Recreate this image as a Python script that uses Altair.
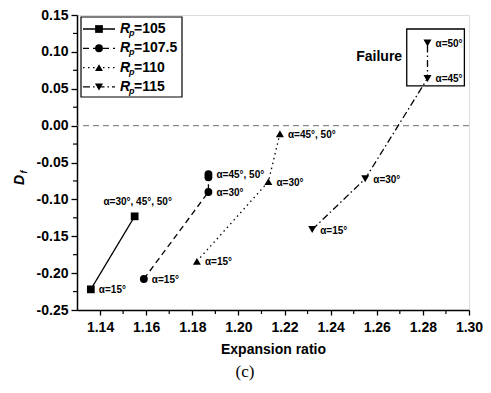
import altair as alt
import pandas as pd

# ---------------- data ----------------
series_names = ["Rp=105", "Rp=107.5", "Rp=110", "Rp=115"]
legend_values = ["=105", "=107.5", "=110", "=115"]

r105_alpha = [15, 30]
r105_ratio = [1.136, 1.155]
r105_df = [-0.222, -0.123]
r105_label = ["α=15°", "α=30°, 45°, 50°"]

r1075_alpha = [15, 30, 45, 50]
r1075_ratio = [1.159, 1.187, 1.187, 1.187]
r1075_df = [-0.208, -0.090, -0.070, -0.066]
r1075_label = ["α=15°", "α=30°", "", "α=45°, 50°"]

r110_alpha = [15, 30, 45]
r110_ratio = [1.182, 1.213, 1.218]
r110_df = [-0.184, -0.076, -0.011]
r110_label = ["α=15°", "α=30°", "α=45°, 50°"]

r115_alpha = [15, 30, 45, 50]
r115_ratio = [1.232, 1.255, 1.282, 1.282]
r115_df = [-0.141, -0.072, 0.064, 0.112]
r115_label = ["α=15°", "α=30°", "α=45°", "α=50°"]

failure_ratio = [1.273, 1.298]
failure_df = [0.054, 0.131]
failure_text_pos = [1.271, 0.093]

x_ticks = [1.14, 1.16, 1.18, 1.20, 1.22, 1.24, 1.26, 1.28, 1.30]
y_ticks = [-0.25, -0.20, -0.15, -0.10, -0.05, 0.00, 0.05, 0.10, 0.15]
x_minor = [1.15, 1.17, 1.19, 1.21, 1.23, 1.25, 1.27, 1.29]
y_minor = [-0.225, -0.175, -0.125, -0.075, -0.025, 0.025, 0.075, 0.125]

# ---------------- tables ----------------
rows = []
for name, al, xr, yd, lb in [
    (series_names[0], r105_alpha, r105_ratio, r105_df, r105_label),
    (series_names[1], r1075_alpha, r1075_ratio, r1075_df, r1075_label),
    (series_names[2], r110_alpha, r110_ratio, r110_df, r110_label),
    (series_names[3], r115_alpha, r115_ratio, r115_df, r115_label),
]:
    for a, x, y, t in zip(al, xr, yd, lb):
        rows.append({"series": name, "alpha": a, "ratio": x, "Df": y, "label": t})
df = pd.DataFrame(rows)

FONT = "Liberation Sans"
W, H = 392, 295

xs = alt.Scale(domain=[1.13, 1.30], nice=False, zero=False)
ys = alt.Scale(domain=[-0.25, 0.15], nice=False, zero=False)

dash_scale = alt.Scale(domain=series_names,
                       range=[[1, 0], [6, 4], [1.5, 3.5], [7, 3, 1.5, 3]])
shape_scale = alt.Scale(domain=series_names,
                        range=["square", "circle", "triangle-up", "triangle-down"])
size_scale = alt.Scale(domain=series_names, range=[60, 65, 110, 110])

x_axis = alt.Axis(values=x_ticks, format=".2f", title="Expansion ratio",
                  labelFont=FONT, labelFontWeight="bold", labelFontSize=14,
                  labelColor="black", labelPadding=5, labelFlush=False,
                  titleFont=FONT, titleFontWeight="bold", titleFontSize=14,
                  titleColor="black", titlePadding=8,
                  tickSize=5, tickWidth=1.3, tickColor="black",
                  domainColor="black", domainWidth=1.5, grid=False)
y_axis = alt.Axis(values=y_ticks, title=None,
                  labelExpr="replace(format(datum.value, '.2f'), '\u2212', '-')",
                  labelFont=FONT, labelFontWeight="bold", labelFontSize=14,
                  labelColor="black", labelPadding=3, labelFlush=False,
                  tickSize=6, tickWidth=1.3, tickColor="black",
                  domainColor="black", domainWidth=1.5, grid=False)

base = alt.Chart(df)
X = alt.X("ratio:Q", scale=xs, axis=x_axis)
Y = alt.Y("Df:Q", scale=ys, axis=y_axis)

zero_line = alt.Chart(pd.DataFrame({"v": [0.0]})).mark_rule(
    color="#8a8a8a", strokeDash=[6, 4], strokeWidth=1.3
).encode(y=alt.Y("v:Q", scale=ys, axis=y_axis))

lines = base.mark_line(color="black", strokeWidth=1.3).encode(
    x=X, y=Y,
    strokeDash=alt.StrokeDash("series:N", scale=dash_scale, legend=None),
    order=alt.Order("alpha:Q"),
)
points = base.mark_point(filled=True, color="black", opacity=1).encode(
    x=X, y=Y,
    shape=alt.Shape("series:N", scale=shape_scale, legend=None),
    size=alt.Size("series:N", scale=size_scale, legend=None),
)
labels = base.transform_filter(
    "datum.label != '' && !(datum.series == 'Rp=105' && datum.alpha == 30)"
).mark_text(align="left", baseline="middle", dx=8, dy=1, font=FONT,
            fontWeight="bold", fontSize=10, color="black").encode(
    x=X, y=Y, text="label:N")
top_label = base.transform_filter(
    "datum.series == 'Rp=105' && datum.alpha == 30"
).mark_text(align="center", baseline="middle", dx=3, dy=-14, font=FONT,
            fontWeight="bold", fontSize=10, color="black").encode(
    x=X, y=Y, text="label:N")

fail_box = alt.Chart(pd.DataFrame({
    "x1": [failure_ratio[0]], "x2": [failure_ratio[1]],
    "y1": [failure_df[0]], "y2": [failure_df[1]]})).mark_rect(
    fill="white", fillOpacity=0, stroke="black", strokeWidth=1.3
).encode(x=alt.X("x1:Q", scale=xs, axis=x_axis), x2="x2:Q",
         y=alt.Y("y1:Q", scale=ys, axis=y_axis), y2="y2:Q")
fail_text = alt.Chart(pd.DataFrame({
    "x": [failure_text_pos[0]], "y": [failure_text_pos[1]], "t": ["Failure"]})
).mark_text(align="right", baseline="middle", font=FONT, fontWeight="bold",
            fontSize=14, color="black").encode(
    x=alt.X("x:Q", scale=xs, axis=x_axis), y=alt.Y("y:Q", scale=ys, axis=y_axis),
    text="t:N")

minor_y = alt.Chart(pd.DataFrame({"v": y_minor})).mark_rule(
    color="black", strokeWidth=1.2).encode(
    y=alt.Y("v:Q", scale=ys, axis=y_axis), x=alt.value(0), x2=alt.value(-4))
minor_x = alt.Chart(pd.DataFrame({"v": x_minor})).mark_rule(
    color="black", strokeWidth=1.2).encode(
    x=alt.X("v:Q", scale=xs, axis=x_axis), y=alt.value(H), y2=alt.value(H + 4))

# ---------------- manual legend ----------------
leg = alt.Chart(pd.DataFrame({"series": series_names, "val": legend_values})
                ).transform_window(row="row_number()"
                ).transform_calculate(ly="14 + 19.3 * (datum.row - 1)")
LY = alt.Y("ly:Q", scale=None, axis=None)
leg_box = alt.Chart(pd.DataFrame({"a": [0]})).mark_rect(
    fill="white", stroke="black", strokeWidth=1.2).encode(
    x=alt.value(4), x2=alt.value(105), y=alt.value(2), y2=alt.value(82))
leg_line = leg.mark_rule(color="black", strokeWidth=1.3).encode(
    x=alt.value(6), x2=alt.value(38), y=LY,
    strokeDash=alt.StrokeDash("series:N", scale=dash_scale, legend=None))
leg_pt = leg.mark_point(filled=True, color="black", opacity=1).encode(
    x=alt.value(22), y=LY,
    shape=alt.Shape("series:N", scale=shape_scale, legend=None),
    size=alt.Size("series:N", scale=size_scale, legend=None))
leg_R = leg.mark_text(text="R", align="left", baseline="middle", font=FONT,
                      fontWeight="bold", fontStyle="italic", fontSize=14,
                      color="black").encode(x=alt.value(43), y=LY)
leg_p = leg.mark_text(text="p", align="left", baseline="middle", dy=4, font=FONT,
                      fontWeight="bold", fontStyle="italic", fontSize=9,
                      color="black").encode(x=alt.value(52), y=LY)
leg_v = leg.mark_text(align="left", baseline="middle", font=FONT,
                      fontWeight="bold", fontSize=14, color="black").encode(
    x=alt.value(57), y=LY, text="val:N")

# ---------------- y title and caption ----------------
one = alt.Chart(pd.DataFrame({"a": [0]}))
ytitle_D = one.mark_text(text="D", angle=270, align="center", baseline="middle",
                         font=FONT, fontWeight="bold", fontStyle="italic",
                         fontSize=14, color="black").encode(
    x=alt.value(-57), y=alt.value(165))
ytitle_f = one.mark_text(text="f", angle=270, align="center", baseline="middle",
                         font=FONT, fontWeight="bold", fontStyle="italic",
                         fontSize=9, color="black").encode(
    x=alt.value(-53), y=alt.value(157))
caption = one.mark_text(text="(c)", align="center", baseline="middle",
                        font="Liberation Serif", fontSize=17,
                        color="black").encode(x=alt.value(168), y=alt.value(357))

chart = alt.layer(
    zero_line, lines, points, labels, top_label, fail_box, fail_text,
    minor_y, minor_x, leg_box, leg_line, leg_pt, leg_R, leg_p, leg_v,
    ytitle_D, ytitle_f, caption,
).properties(
    width=W, height=H,
    autosize=alt.AutoSizeParams(type="none"),
    padding={"left": 69, "top": 7, "right": 14, "bottom": 75},
).configure_view(stroke="black", strokeWidth=1.5).configure(background="white")

chart.save("out.html", embed_options={"renderer": "svg", "actions": False})
